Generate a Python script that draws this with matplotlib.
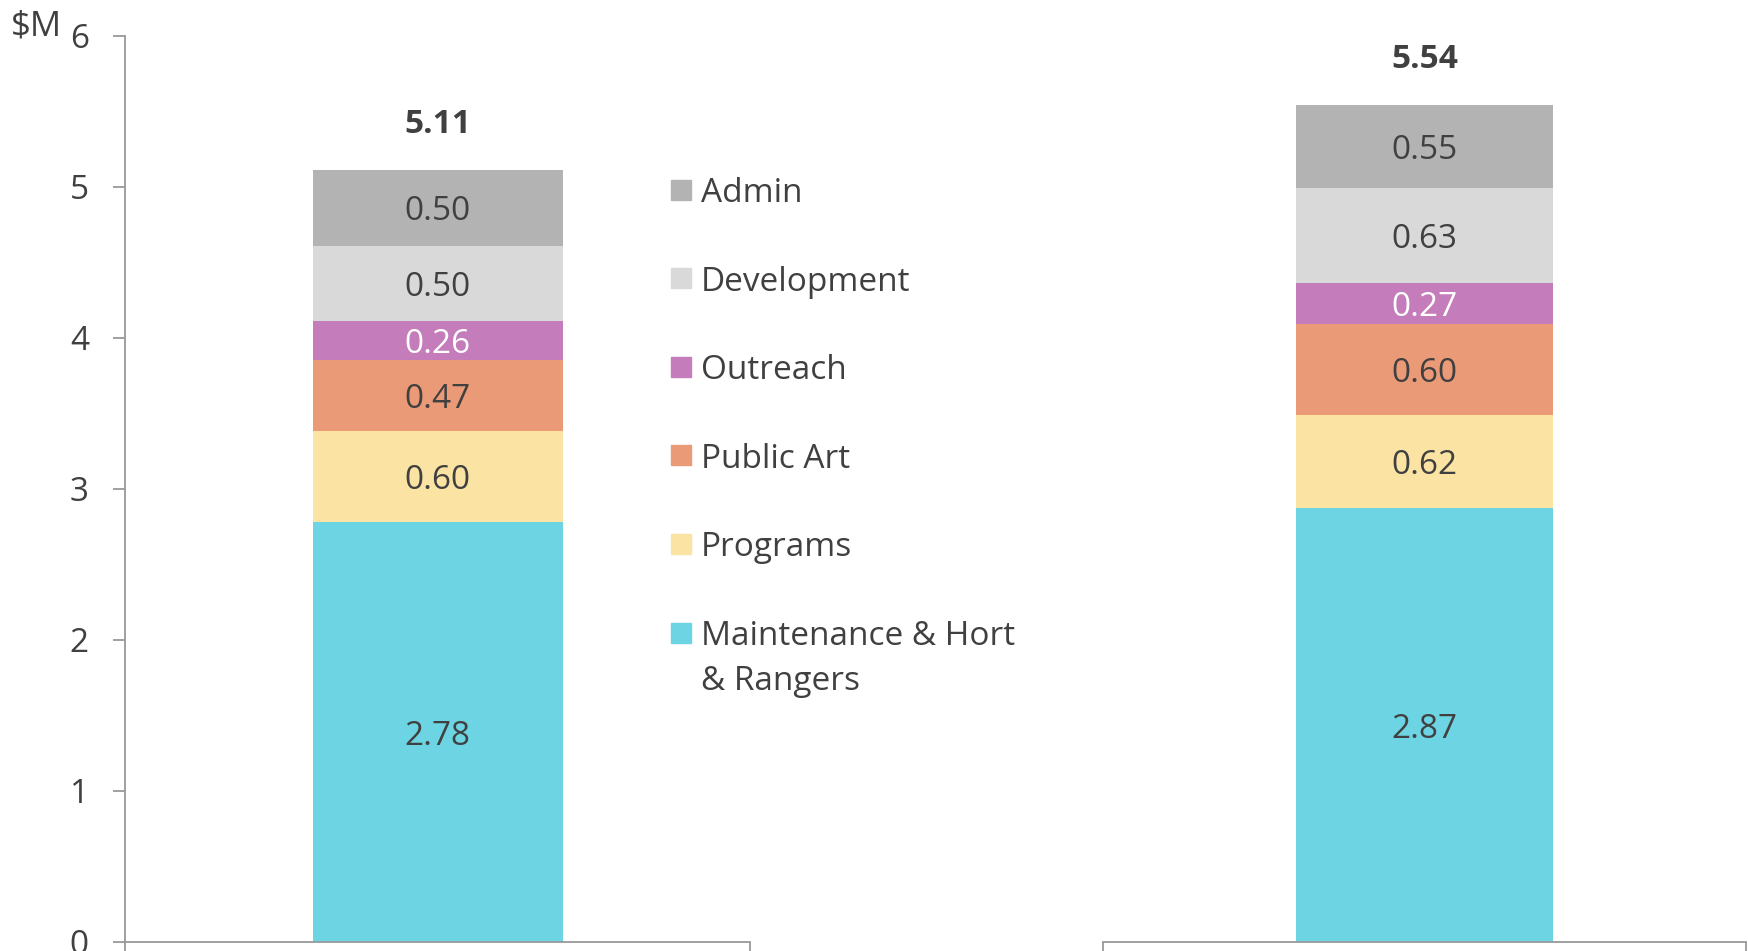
import matplotlib.pyplot as plt
from matplotlib.patches import Rectangle

plt.rcParams['font.family'] = ['Open Sans', 'DejaVu Sans']

# data
categories = ["Maintenance & Hort\n& Rangers", "Programs", "Public Art", "Outreach", "Development", "Admin"]
colors = ["#6dd4e4", "#fbe3a4", "#eb9a78", "#c47dba", "#d9d9d9", "#b3b3b3"]
label_colors = ["#404040", "#404040", "#404040", "white", "#404040", "#404040"]
left_values = [2.78, 0.60, 0.47, 0.26, 0.50, 0.50]
right_values = [2.87, 0.62, 0.60, 0.27, 0.63, 0.55]
totals = [5.11, 5.54]

W, H = 1748, 951
fig = plt.figure(figsize=(W / 100, H / 100), dpi=100)

bottom_px, top_px = 942, 35.7
ax_b = (H - bottom_px) / H
ax_h = (bottom_px - top_px) / H
ax1 = fig.add_axes([125 / W, ax_b, (750 - 125) / W, ax_h])
ax2 = fig.add_axes([1103 / W, ax_b, (1746 - 1103) / W, ax_h], sharey=ax1)

txt = "#404040"
spine_c = "#999999"
fs = 24


def draw_stack(ax, values, total):
    base = 0
    for v, c, lc in zip(values, colors, label_colors):
        ax.bar(0, v, width=0.4, bottom=base, color=c, zorder=2)
        ax.text(0, base + v / 2, f"{v:.2f}", ha="center", va="center_baseline",
                fontsize=fs, color=lc, zorder=3)
        base += v
    ax.annotate(f"{total:.2f}", (0, base), xytext=(0, 36), textcoords="offset points",
                ha="center", va="center_baseline", fontsize=fs, fontweight="bold", color=txt)
    ax.set_xlim(-0.5, 0.5)
    ax.set_xticks([-0.5, 0.5])
    ax.set_xticklabels([])
    ax.tick_params(axis="x", direction="out", length=12, width=1.3, color=spine_c)
    for s in ["top", "right"]:
        ax.spines[s].set_visible(False)
    ax.spines["bottom"].set_color(spine_c)
    ax.spines["bottom"].set_linewidth(1.3)
    ax.spines["bottom"].set_zorder(4)


draw_stack(ax1, left_values, totals[0])
draw_stack(ax2, right_values, totals[1])

ax1.set_ylim(0, 6)
ax1.set_yticks(range(0, 7))
ax1.spines["left"].set_color(spine_c)
ax1.spines["left"].set_linewidth(1.3)
ax1.tick_params(axis="y", direction="out", length=9, width=1.3, color=spine_c,
                labelsize=fs, labelcolor=txt, pad=17)
ax1.spines["left"].set_bounds(0, 6)

ax2.spines["left"].set_visible(False)
ax2.tick_params(axis="y", left=False, labelleft=False)

fig.text(11 / W, 1 - 26 / H, "$M", fontsize=fs + 1, color=txt, ha="left", va="center")

# legend, top to bottom
leg_y0 = 189.5
step = 88.6
for i, k in enumerate(range(len(categories) - 1, -1, -1)):
    yc = leg_y0 + i * step
    fig.patches.append(Rectangle((671 / W, 1 - (yc + 10) / H), 20 / W, 20 / H,
                                 transform=fig.transFigure, color=colors[k], figure=fig))
    for j, line in enumerate(categories[k].split("\n")):
        fig.text(701 / W, 1 - (yc + j * 45) / H, line, fontsize=fs, color=txt,
                 ha="left", va="center_baseline")

fig.savefig("out.png", dpi=100)
